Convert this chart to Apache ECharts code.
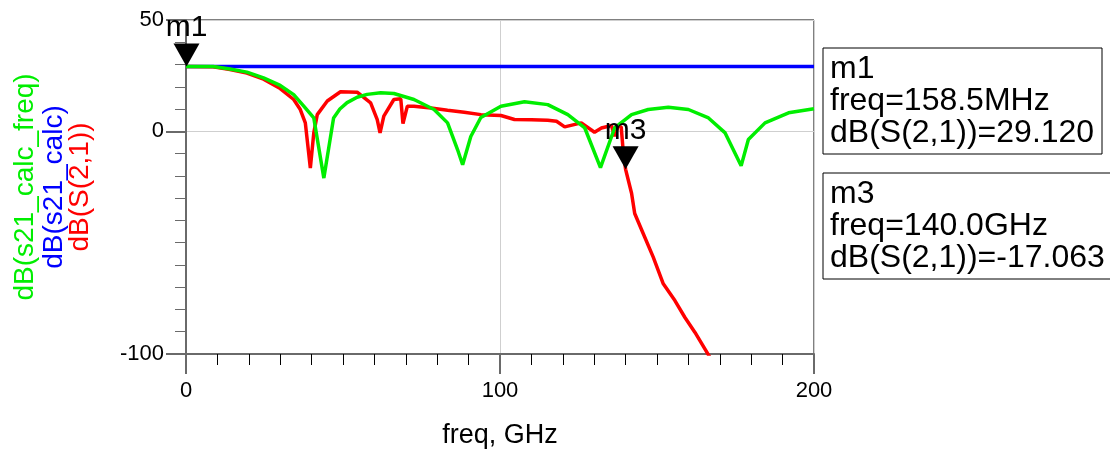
<!DOCTYPE html>
<html>
<head>
<meta charset="utf-8">
<script src="https://cdn.jsdelivr.net/npm/echarts@6/dist/echarts.min.js"></script>
<style>
  html, body { margin: 0; padding: 0; background: #fff; }
  #chart { width: 1110px; height: 457px; }
</style>
</head>
<body>
<div id="chart"></div>
<script>
const FONT = '"Liberation Sans", Arial, sans-serif'

// freq in GHz, values in dB
const greenFreq = [0, 4, 8.6, 14, 19.4, 24.7, 30, 34.3, 37.5, 40.7, 43.9, 47, 49, 51.3, 54.5, 57.7, 62, 66.2, 72.6, 79, 83.3, 86.5, 88.1, 90.7, 93.9, 100.3, 107.8, 115.2, 121.6, 127, 132, 136.5, 141.9, 147.2, 153.6, 160, 166.4, 171.7, 176.8, 179.1, 184.4, 191.9, 200]
const greenDb = [29.12, 29.1, 29.1, 28, 26.6, 24, 20.6, 16.5, 11.3, 6, -21, 6, 10, 12.9, 15.3, 16.6, 17.3, 17, 14.3, 9.8, 3.8, -8.3, -15, -2.3, 6.2, 11.3, 13.3, 12, 7.5, 1.5, -16.3, 1.5, 7.5, 9.8, 10.8, 9.8, 6, -0.7, -15.5, -3.7, 3.8, 8.3, 10.1]

const blueFreq = [0, 50, 100, 150, 200]
const blueDb = [29.12, 29.12, 29.12, 29.12, 29.12]

const redFreq = [0, 8.6, 14, 19.4, 24.7, 30, 34.3, 36.4, 38, 39.6, 40.7, 41.8, 45, 49.2, 54.5, 58.8, 60.9, 61.8, 63, 66.2, 68.4, 69.1, 70.5, 72.6, 78, 83.3, 88.6, 93.9, 100.3, 104.6, 110, 115.2, 118, 120.6, 125.9, 130.1, 132.3, 135.5, 136.5, 137.6, 138.6, 139.3, 140, 141.9, 142.9, 145.6, 148.8, 152, 155.7, 158.9, 162.1, 166.9]
const redDb = [29.12, 29, 27.8, 26.2, 23.4, 19.2, 14.3, 9.8, 3.8, -16.5, -0.7, 7.5, 13.6, 17.8, 17.6, 12.8, 5.3, -0.7, 6.8, 14.3, 14.6, 3.5, 11.3, 11.3, 10.5, 9.5, 8.6, 7.5, 7.1, 5.3, 5.2, 5, 4.5, 2, 3.8, -0.4, 1.5, 2.6, -2.2, 2.3, 2, -10, -17.063, -27.8, -36.9, -45.9, -56.5, -68.5, -76, -83.6, -90.3, -101.6]

const markerNames = ['m1', 'm3']
const markerFreq = [0.1585, 140]
const markerDb = [29.12, -17.063]
const markerText = [
  'm1\nfreq=158.5MHz\ndB(S(2,1))=29.120',
  'm3\nfreq=140.0GHz\ndB(S(2,1))=-17.063'
]

const yTickLabels = { '50': '50', '0': '0', '-100': '-100' }

const pairs = (xs, ys) => xs.map((x, i) => [x, ys[i]])

const chartEl = document.getElementById('chart')
const chart = echarts.init(chartEl, null, { renderer: 'canvas' })

const axisGray = '#6a6a6a'
const gridGray = '#cfcfcf'

const lineSeries = (name, color, data, z) => ({
  name,
  type: 'line',
  data,
  showSymbol: false,
  symbol: 'none',
  z,
  lineStyle: { color, width: 3.5 },
  itemStyle: { color }
})

const redSeries = lineSeries('dB(S(2,1))', '#ff0000', pairs(redFreq, redDb), 3)
redSeries.markPoint = {
  symbol: 'path://M0,0 L26,0 L13,23 Z',
  symbolSize: [26, 23],
  symbolOffset: [0, '-50%'],
  itemStyle: { color: '#000' },
  label: {
    show: true,
    position: 'top',
    distance: 1,
    formatter: (p) => p.name,
    color: '#000',
    fontSize: 30,
    fontFamily: FONT
  },
  data: markerNames.map((n, i) => ({ name: n, coord: [markerFreq[i], markerDb[i]] }))
}

const boxGraphics = markerText.map((t, i) => ({
  type: 'group',
  x: 823,
  y: i === 0 ? 48 : 173,
  children: [
    {
      type: 'rect',
      shape: { x: 0, y: 0, width: i === 0 ? 279 : 300, height: 106 },
      style: { fill: '#fff', stroke: '#000', lineWidth: 1 }
    },
    {
      type: 'text',
      x: 7,
      y: 5,
      style: {
        text: t,
        font: '32px ' + FONT,
        lineHeight: 32,
        fill: '#000'
      }
    }
  ]
}))

const yNames = [
  { text: 'dB(s21_calc_freq)', color: '#00ee00', x: 25 },
  { text: 'dB(s21_calc)', color: '#0000ff', x: 54 },
  { text: 'dB(S(2,1))', color: '#ff0000', x: 80 }
]

const option = {
  animation: false,
  backgroundColor: '#fff',
  grid: {
    left: 186,
    top: 20,
    right: 296,
    bottom: 103,
    show: true,
    borderColor: '#000',
    borderWidth: 1
  },
  xAxis: {
    type: 'value',
    min: 0,
    max: 200,
    interval: 100,
    name: 'freq, GHz',
    nameLocation: 'middle',
    nameGap: 68,
    nameTextStyle: { fontSize: 27, color: '#000', fontFamily: FONT },
    axisLine: { onZero: false, lineStyle: { color: axisGray, width: 2 } },
    axisTick: { length: 20, lineStyle: { color: axisGray, width: 2 } },
    minorTick: { show: true, splitNumber: 10, length: 11, lineStyle: { color: '#000', width: 1 } },
    axisLabel: { fontSize: 22, color: '#000', margin: 26, fontFamily: FONT },
    splitLine: { show: true, lineStyle: { color: gridGray, width: 1 } },
    minorSplitLine: { show: false }
  },
  yAxis: [
    {
      type: 'value',
      min: -100,
      max: 50,
      interval: 10,
      position: 'left',
      axisLine: { show: true, onZero: false, lineStyle: { color: axisGray, width: 2 } },
      axisTick: { show: true, length: 11, lineStyle: { color: axisGray, width: 1 } },
      axisLabel: { show: false },
      splitLine: { show: false }
    },
    {
      type: 'value',
      min: -100,
      max: 50,
      interval: 100,
      position: 'left',
      axisLine: { show: false },
      axisTick: { show: true, length: 20, lineStyle: { color: axisGray, width: 2 } },
      axisLabel: {
        fontSize: 22,
        color: '#000',
        margin: 22,
        fontFamily: FONT,
        formatter: (v) => yTickLabels[String(v)] ?? ''
      },
      splitLine: { show: true, lineStyle: { color: gridGray, width: 1 } }
    }
  ],
  series: [
    lineSeries('dB(s21_calc)', '#0000ff', pairs(blueFreq, blueDb), 2),
    redSeries,
    lineSeries('dB(s21_calc_freq)', '#00ee00', pairs(greenFreq, greenDb), 4)
  ],
  graphic: [
    ...yNames.map((n) => ({
      type: 'text',
      x: n.x,
      y: 187,
      rotation: Math.PI / 2,
      style: {
        text: n.text,
        font: '28px ' + FONT,
        fill: n.color,
        align: 'center',
        verticalAlign: 'middle'
      }
    })),
    ...boxGraphics
  ]
}

chart.setOption(option)
window.addEventListener('resize', () => chart.resize())
</script>
</body>
</html>
